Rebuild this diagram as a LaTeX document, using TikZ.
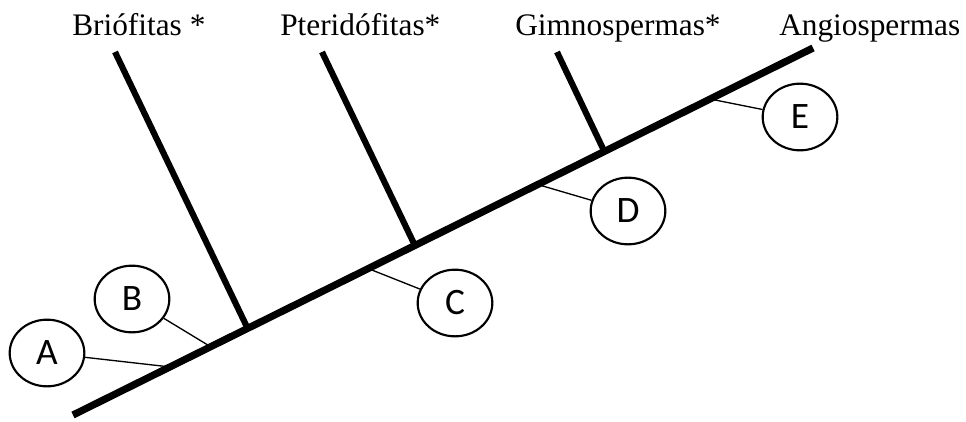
\documentclass[tikz,border=0pt]{standalone}
\usepackage{fontspec}
\setmainfont{Liberation Serif}
\newfontfamily\letra{Carlito}
\usetikzlibrary{shapes.geometric}
\tikzset{
  tronco/.style={line width=5.4pt},
  rama/.style={line width=4.6pt},
  conector/.style={line width=1pt},
  clado/.style={draw, ellipse, line width=1.6pt, inner sep=0pt, minimum width=56pt,
                minimum height=50pt, font=\letra\fontsize{28}{28}\selectfont},
  grupo/.style={anchor=base west, inner sep=0pt, font=\fontsize{23.5}{28}\selectfont},
}

\begin{document}
\begin{tikzpicture}[x=0.75pt, y=-0.75pt]
  \useasboundingbox (0,0) rectangle (966,421);
  % tronco principal
  \coordinate (raiz) at (73,415);
  \coordinate (punta) at (813,48);
  \path (raiz) -- (punta)
    coordinate[pos=0.131] (pA) coordinate[pos=0.186] (pB)
    coordinate[pos=0.236] (nBrio) coordinate[pos=0.399] (pC)
    coordinate[pos=0.462] (nPteri) coordinate[pos=0.628] (pD)
    coordinate[pos=0.718] (nGimno) coordinate[pos=0.861] (pE);
  \draw[tronco] (raiz) -- (punta);
  % grupos
  \node[grupo] (brio) at (72,35) {Briófitas *};
  \node[grupo] (pteri) at (280,35) {Pteridófitas*};
  \node[grupo] (gimno) at (515,35) {Gimnospermas*};
  \node[grupo] (angio) at (779,35) {Angiospermas};
  \coordinate (tBrio) at (115,52);
  \coordinate (tPteri) at (322,52);
  \coordinate (tGimno) at (557,52);
  \draw[rama] (nBrio) -- (tBrio);
  \draw[rama] (nPteri) -- (tPteri);
  \draw[rama] (nGimno) -- (tGimno);
  % caracteres
  \node[clado] (A) at (47,353) {A};
  \node[clado] (B) at (132,299) {B};
  \node[clado] (C) at (455,303) {C};
  \node[clado] (D) at (628,211) {D};
  \node[clado] (E) at (800,117) {E};
  \draw[conector] (pA) -- (A);
  \draw[conector] (pB) -- (B);
  \draw[conector] (pC) -- (C);
  \draw[conector] (pD) -- (D);
  \draw[conector] (pE) -- (E);
\end{tikzpicture}
\end{document}
